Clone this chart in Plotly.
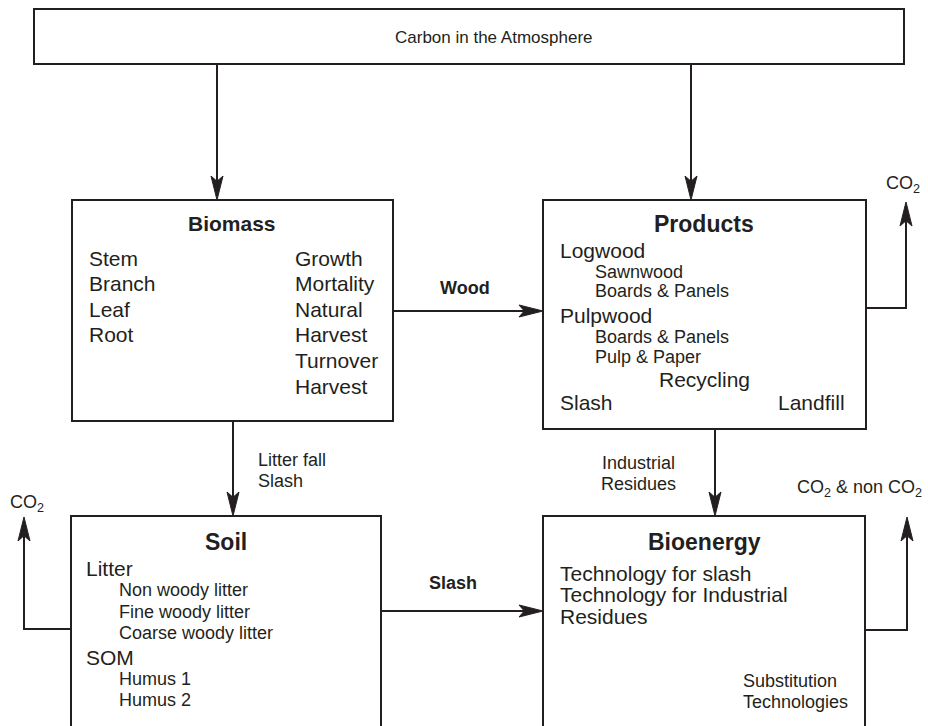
import plotly.graph_objects as go

# ---------------- content ----------------
atmosphere_label = "Carbon in the Atmosphere"
box_titles = ["Biomass", "Products", "Soil", "Bioenergy"]

biomass_pools = ["Stem", "Branch", "Leaf", "Root"]
biomass_processes = ["Growth", "Mortality", "Natural", "Harvest", "Turnover", "Harvest"]

products_items = [("Logwood", 0), ("Sawnwood", 1), ("Boards & Panels", 1),
                  ("Pulpwood", 0), ("Boards & Panels", 1), ("Pulp & Paper", 1)]
products_recycling = "Recycling"
products_slash = "Slash"
products_landfill = "Landfill"

soil_items = [("Litter", 0), ("Non woody litter", 1), ("Fine woody litter", 1),
              ("Coarse woody litter", 1), ("SOM", 0), ("Humus 1", 1), ("Humus 2", 1)]

bioenergy_items = ["Technology for slash", "Technology for Industrial", "Residues"]
bioenergy_subst = ["Substitution", "Technologies"]

flow_wood = "Wood"
flow_slash = "Slash"
flow_litter = ["Litter fall", "Slash"]
flow_industrial = ["Industrial", "Residues"]
co2_label = "CO<sub>2</sub>"
co2_non_label = "CO<sub>2</sub> & non CO<sub>2</sub>"

# ---------------- layout geometry (pixels) ----------------
W, H = 928, 726
INK = "#231f20"
FONT = "Liberation Sans, Arial, Helvetica, sans-serif"

boxes = {
    "atm": (34, 9, 904, 64),
    "bio": (72, 200, 393, 421),
    "prod": (543, 200, 866, 429),
    "soil": (71, 516, 381, 760),
    "bioe": (543, 516, 865, 760),
}

arrows = [
    [(217, 64), (217, 200)],
    [(691, 64), (691, 200)],
    [(393, 311), (543, 311)],
    [(233, 421), (233, 516)],
    [(715, 429), (715, 516)],
    [(381, 611), (543, 611)],
    [(866, 308), (906, 308), (906, 202)],
    [(71, 629), (24, 629), (24, 517)],
    [(865, 630), (907, 630), (907, 517)],
]

fig = go.Figure()
shapes = []
annotations = []

for (x0, y0, x1, y1) in boxes.values():
    shapes.append(dict(type="rect", x0=x0, y0=y0, x1=x1, y1=y1,
                       line=dict(color=INK, width=2), fillcolor="rgba(0,0,0,0)"))

AL, AW = 24, 12  # arrowhead length / width
for pts in arrows:
    (xa, ya), (xb, yb) = pts[-2], pts[-1]
    dx, dy = xb - xa, yb - ya
    n = (dx * dx + dy * dy) ** 0.5
    ux, uy = dx / n, dy / n
    px, py = -uy, ux
    line_pts = pts[:-1] + [(xb - ux * 10, yb - uy * 10)]
    path = "M " + " L ".join(f"{x},{y}" for x, y in line_pts)
    shapes.append(dict(type="path", path=path, line=dict(color=INK, width=2)))
    bx, by = xb - ux * AL, yb - uy * AL
    nx, ny = xb - ux * AL * 0.78, yb - uy * AL * 0.78
    head = (f"M {xb},{yb} L {bx + px * AW / 2},{by + py * AW / 2} "
            f"L {nx},{ny} L {bx - px * AW / 2},{by - py * AW / 2} Z")
    shapes.append(dict(type="path", path=head, line=dict(color=INK, width=1),
                       fillcolor=INK))


def txt(x, y, s, size=21, anchor="left", bold=False):
    annotations.append(dict(
        x=x, y=y, text=s, showarrow=False,
        xanchor=anchor, yanchor="middle",
        font=dict(family=FONT, size=size, color=INK,
                  weight="bold" if bold else "normal")))


# atmosphere
txt(494, 37, atmosphere_label, size=17, anchor="center")

# biomass
txt(232, 223, box_titles[0], size=21, anchor="center", bold=True)
for i, s in enumerate(biomass_pools):
    txt(87, 258 + i * 25.6, s)
for i, s in enumerate(biomass_processes):
    txt(293, 258 + i * 25.6, s)

# products
txt(704, 224, box_titles[1], size=23, anchor="center", bold=True)
prod_y = [250, 272, 291, 315, 337, 357]
for (s, lvl), y in zip(products_items, prod_y):
    txt(558 if lvl == 0 else 593, y, s, size=21 if lvl == 0 else 18)
txt(704, 379, products_recycling, anchor="center")
txt(558, 402, products_slash)
txt(847, 402, products_landfill, anchor="right")

# soil
txt(226, 542, box_titles[2], size=23, anchor="center", bold=True)
soil_y = [568, 590, 612, 633, 657, 679, 700]
for (s, lvl), y in zip(soil_items, soil_y):
    txt(84 if lvl == 0 else 117, y, s, size=21 if lvl == 0 else 18)

# bioenergy
txt(704, 542, box_titles[3], size=23, anchor="center", bold=True)
for i, s in enumerate(bioenergy_items):
    txt(558, 573 + i * 21.5, s)
for i, s in enumerate(bioenergy_subst):
    txt(741, 681 + i * 21, s, size=18)

# flows
txt(465, 288, flow_wood, size=18, anchor="center", bold=True)
txt(453, 583, flow_slash, size=18, anchor="center", bold=True)
for i, s in enumerate(flow_litter):
    txt(256, 460 + i * 21, s, size=18)
for i, s in enumerate(flow_industrial):
    txt(638, 463 + i * 21, s, size=18, anchor="center")
txt(903, 184, co2_label, size=18, anchor="center")
txt(27, 503, co2_label, size=18, anchor="center")
txt(859, 488, co2_non_label, size=18, anchor="center")

fig.update_layout(
    width=W, height=H, margin=dict(l=0, r=0, t=0, b=0),
    paper_bgcolor="white", plot_bgcolor="white",
    xaxis=dict(range=[0, W], visible=False, fixedrange=True),
    yaxis=dict(range=[H, 0], visible=False, fixedrange=True),
    shapes=shapes, annotations=annotations, showlegend=False,
)
fig.write_html(
    "out.html",
    config=dict(displayModeBar=False),
    post_script="document.body.style.margin='0';document.body.style.overflow='hidden';",
)
